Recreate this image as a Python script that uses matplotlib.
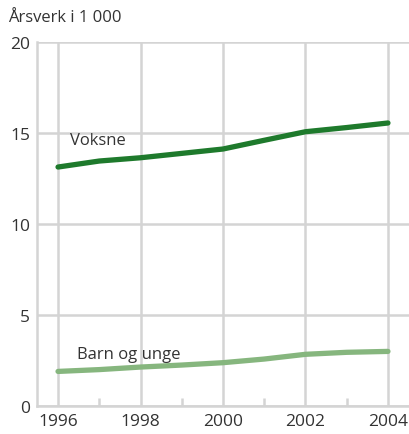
import matplotlib
matplotlib.use("Agg")
import matplotlib.pyplot as plt
from matplotlib.ticker import MultipleLocator

years = [1996, 1997, 1998, 1999, 2000, 2001, 2002, 2003, 2004]
voksne = [13.13, 13.46, 13.64, 13.88, 14.12, 14.6, 15.07, 15.3, 15.55]
barn = [1.9, 2.0, 2.14, 2.25, 2.38, 2.58, 2.84, 2.95, 3.0]
xticks = [1996, 1998, 2000, 2002, 2004]
yticks = [0, 5, 10, 15, 20]

plt.rcParams['font.family'] = ['Open Sans', 'DejaVu Sans']
txt = '#333333'
grid = '#d4d4d4'

fig = plt.figure(figsize=(4.09, 4.35), dpi=100)
ax = fig.add_axes([37/409, (435-407)/435, (409-37)/409, (407-43)/435])

ax.plot(years, voksne, color='#1e7a2c', lw=3.8, solid_capstyle='round', zorder=3)
ax.plot(years, barn, color='#86b67e', lw=3.8, solid_capstyle='round', zorder=3)

ax.set_xlim(1995.49, 2004.51)
ax.set_ylim(0, 20)
ax.set_xticks(xticks)
ax.set_yticks(yticks)
ax.xaxis.set_minor_locator(MultipleLocator(1))
ax.grid(True, which='major', color=grid, lw=1.8)
ax.set_axisbelow(True)
for s in ['top', 'right']:
    ax.spines[s].set_visible(False)
for s in ['left', 'bottom']:
    ax.spines[s].set_color(grid)
    ax.spines[s].set_linewidth(1.8)
ax.tick_params(axis='both', which='major', length=0, labelsize=12.5, colors=txt, pad=5)
ax.tick_params(axis='x', which='minor', direction='in', length=6, width=1.8, color=grid)
ax.tick_params(axis='y', which='minor', length=0)

ax.text(1996.3, 14.15, 'Voksne', fontsize=12, color=txt, va='bottom', ha='left')
ax.text(1996.45, 2.4, 'Barn og unge', fontsize=12, color=txt, va='bottom', ha='left')
fig.text(8/409, 1 - 18/435, 'Årsverk i 1 000', fontsize=12, color=txt, va='center', ha='left')

fig.savefig('out.png', dpi=100)
